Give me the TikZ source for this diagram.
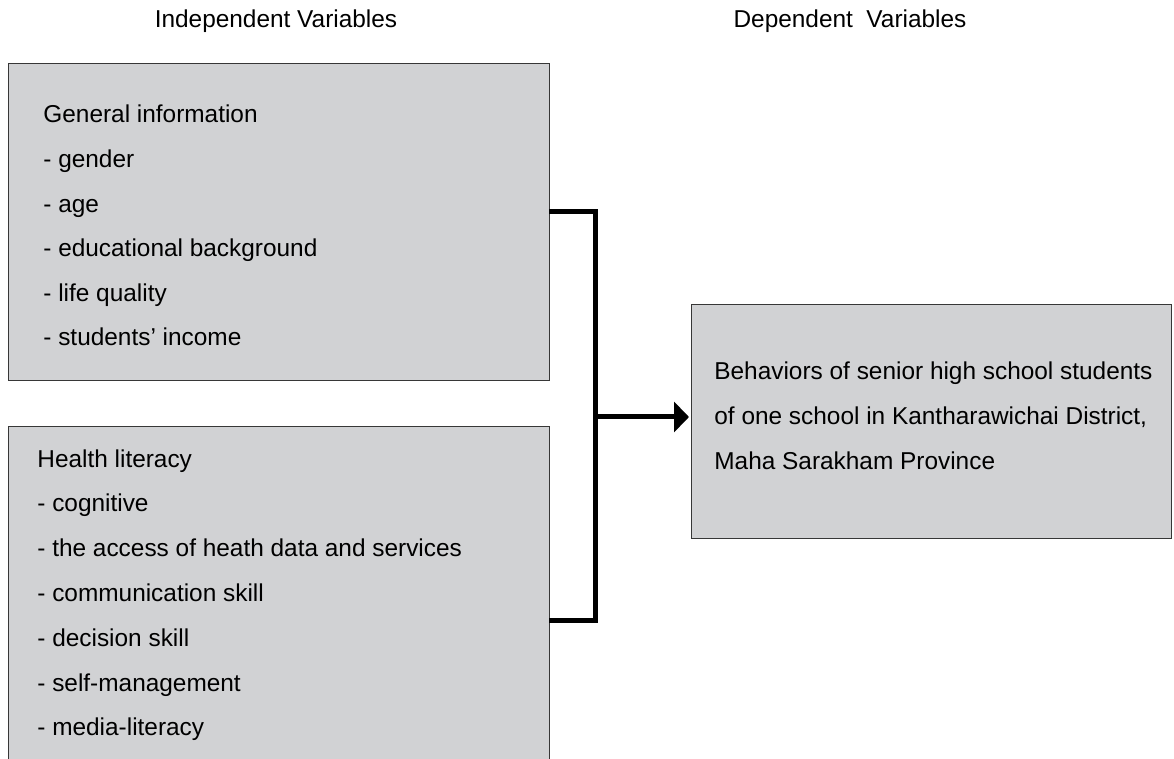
\documentclass[tikz,border=0pt]{standalone}
\usepackage{fontspec}
\setmainfont{Liberation Sans}
\usetikzlibrary{arrows.meta}
\definecolor{boxgray}{RGB}{209,210,212}
\definecolor{edgegray}{RGB}{55,55,55}

\begin{document}
\begin{tikzpicture}[x=0.5pt,y=-0.5pt,
  font=\fontsize{12.2pt}{14pt}\selectfont,
  varbox/.style={draw=edgegray,line width=0.6pt,fill=boxgray,inner sep=0pt,anchor=north west},
  itemtext/.style={anchor=base west,inner sep=0pt},
  heading/.style={anchor=base,inner sep=0pt},
  link/.style={line width=2.5pt}]
 \clip (0,0) rectangle (1174,759);
 % headings
 \node[heading] (indep) at (276,28) {Independent Variables};
 \node[heading] (dep) at (850,28) {Dependent\ \ Variables};
 % boxes
 \node[varbox,minimum width=270.5pt,minimum height=158.5pt] (general) at (8,63) {};
 \node[varbox,minimum width=270.5pt,minimum height=175pt] (health) at (8,426) {};
 \node[varbox,minimum width=240pt,minimum height=117pt] (behav) at (691,304) {};
 \foreach \t [count=\i from 0] in {General information,- gender,- age,- educational background,- life quality,- students’ income}
  \node[itemtext] (gen-\i) at (43,123+44.6*\i) {\t};
 \foreach \t [count=\i from 0] in {Health literacy,- cognitive,- the access of heath data and services,- communication skill,- decision skill,- self-management,- media-literacy}
  \node[itemtext] (hl-\i) at (37,467+44.8*\i) {\t};
 \foreach \t [count=\i from 0] in {Behaviors of senior high school students,{of one school in Kantharawichai District,},Maha Sarakham Province}
  \node[itemtext] (beh-\i) at (714,380+45*\i) {\t};
 % connectors
 \coordinate (gen-out) at (549,212);
 \coordinate (hl-out) at (549,620);
 \coordinate (joint) at (595,417);
 \draw[link] (gen-out) -| (joint) |- (hl-out);
 \draw[link,-{Triangle[length=7.5pt,width=15pt]},shorten >=1pt] (joint) -- (behav.west |- joint);
\end{tikzpicture}
\end{document}
